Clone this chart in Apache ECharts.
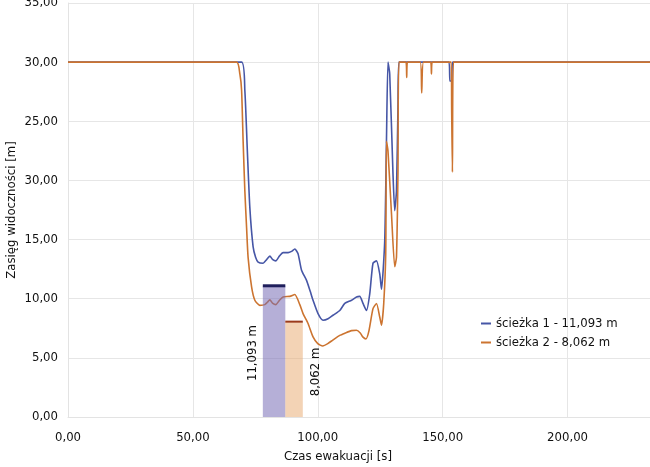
<!DOCTYPE html>
<html>
<head>
    <meta charset="utf-8">
    <title>Zasięg widoczności</title>
    <script src="https://cdn.jsdelivr.net/npm/echarts@6/dist/echarts.min.js"></script>
    <style>
        html, body { margin: 0; padding: 0; background: #fff; }
        #chart { width: 650px; height: 467px; }
    </style>
</head>
<body>
<div id="chart"></div>
<script type="text/javascript">
    // ścieżka 1 (niebieska): czas [s], zasięg [m]
    var time1 = [0, 69.5, 70.8, 71.8, 72.8, 74.1, 75.1, 76.1, 78.1, 79.5, 80.8, 82, 83.2, 84.6, 86.1, 88.1, 89.5, 90.8, 92.1, 93.5,
        95.5, 97, 98.1, 100.1, 102.1, 104.1, 106.1, 108.8, 110.8, 113.5, 115.5, 116.8, 118.1, 119.5, 120.8, 122.1, 123.5, 124.8,
        125.5, 126.8, 127.5, 128.1, 128.8, 130.1, 130.8, 131.5, 132.1, 132.5, 152.5, 152.9, 153.6, 154, 233];
    var range1 = [30, 30, 27.6, 22.5, 17.7, 14.4, 13.5, 13.1, 13.0, 13.3, 13.6, 13.3, 13.2, 13.6, 13.9, 13.9, 14.0, 14.2, 13.8, 12.4,
        11.55, 10.6, 9.87, 8.74, 8.18, 8.3, 8.6, 9.0, 9.6, 9.87, 10.15, 10.2, 9.6, 9.0, 10.4, 13.0, 13.2, 12.1,
        10.8, 14.9, 23.4, 30, 29, 20.6, 17.45, 19.1, 26.2, 30, 30, 28.4, 28.4, 30, 30];

    // ścieżka 2 (pomarańczowa)
    var time2 = [0, 67.5, 68.8, 69.5, 70.1, 70.8, 71.5, 72.1, 73.5, 74.8, 76.8, 78.8, 79.8, 80.8, 82, 83.2, 84.6, 86.1, 88.8, 90.8,
        92.8, 94.1, 96.1, 98.1, 100, 102, 104, 106, 108.8, 111, 113.5, 115.5, 117, 118, 119.3, 120.5, 122.1, 123.5, 124.8, 125.5,
        126.4, 127.2, 127.5, 128.1, 129.5, 130.8, 131.5, 132.1, 132.5, 135.3, 135.6, 135.9, 141, 141.6, 142.3, 145.2, 145.5, 145.8,
        153.4, 153.6, 153.9, 154.3, 233];
    var range2 = [30, 30, 29.0, 27.6, 23.4, 19.1, 16, 13.5, 11.0, 9.87, 9.44, 9.5, 9.7, 9.9, 9.6, 9.5, 9.85, 10.15, 10.2, 10.35,
        9.5, 8.74, 7.9, 6.77, 6.2, 6.0, 6.2, 6.5, 6.9, 7.1, 7.3, 7.33, 7.1, 6.77, 6.6, 7.3, 9.16, 9.6, 8.45, 7.76,
        9.6, 13.8, 23.3, 22.5, 17.2, 12.7, 13.5, 20.6, 30, 30, 28.7, 30, 30, 27.4, 30, 30, 29.0, 30,
        30, 26, 20.7, 30, 30];

    // słupki z wynikiem
    var barStart = [78, 87];
    var barEnd = [87, 94];
    var barValue = [11.093, 8.062];
    var barLabels = ['11,093 m', '8,062 m'];

    var seriesNames = ['ścieżka 1 - 11,093 m', 'ścieżka 2 - 8,062 m'];
    var yTickLabels = ['0,00', '5,00', '10,00', '15,00', '30,00', '25,00', '30,00', '35,00'];

    var FONT = '"DejaVu Sans Condensed", "Liberation Sans Narrow", sans-serif';

    function pairs(xs, ys) {
        var out = [];
        for (var i = 0; i < xs.length; i++) out.push([xs[i], ys[i]]);
        return out;
    }

    var barData = [];
    for (var i = 0; i < barStart.length; i++) barData.push([barStart[i], barEnd[i], barValue[i]]);

    var barFill = ['rgba(120,110,182,0.55)', 'rgba(232,168,108,0.5)'];
    var barTop = ['#1f1f5c', '#9a3a1c'];

    function renderBar(params, api) {
        var idx = params.dataIndex;
        var p0 = api.coord([api.value(0), 0]);
        var p1 = api.coord([api.value(1), api.value(2)]);
        var labelX = idx === 0 ? p0[0] - 10 : p1[0] + 13;
        var labelY = idx === 0 ? p0[1] - 64 : p0[1] - 45;
        return {
            type: 'group',
            children: [
                {
                    type: 'rect',
                    shape: {x: p0[0], y: p1[1], width: p1[0] - p0[0], height: p0[1] - p1[1]},
                    style: {fill: barFill[idx]}
                },
                {
                    type: 'line',
                    shape: {x1: p0[0], y1: p1[1], x2: p1[0], y2: p1[1]},
                    style: {stroke: barTop[idx], lineWidth: idx === 0 ? 3 : 2}
                },
                {
                    type: 'text',
                    x: labelX,
                    y: labelY,
                    rotation: Math.PI / 2,
                    style: {
                        text: barLabels[idx],
                        fill: '#111',
                        font: '13px ' + FONT,
                        align: 'center',
                        verticalAlign: 'middle'
                    }
                }
            ]
        };
    }

    var myChart = echarts.init(document.getElementById('chart'));
    var option = {
        animation: false,
        backgroundColor: '#fff',
        grid: {left: 68, right: 0, top: 3, bottom: 50, containLabel: false, outerBoundsMode: 'none'},
        legend: {
            orient: 'vertical',
            left: 476,
            top: 312,
            itemGap: 6,
            itemWidth: 10,
            itemHeight: 2,
            icon: 'rect',
            data: seriesNames,
            textStyle: {fontFamily: FONT, fontSize: 13, color: '#111'}
        },
        xAxis: {
            type: 'value',
            min: 0,
            max: 233,
            interval: 50,
            name: 'Czas ewakuacji [s]',
            nameLocation: 'middle',
            nameGap: 33,
            nameMoveOverlap: false,
            nameTextStyle: {fontFamily: FONT, fontSize: 13, color: '#111', padding: [0, 42, 0, 0]},
            axisLine: {show: true, lineStyle: {color: '#e3e3e3', width: 1}},
            axisTick: {show: false},
            axisLabel: {
                fontFamily: FONT, fontSize: 13, color: '#111', margin: 14, showMaxLabel: false,
                formatter: function (v) { return v.toFixed(2).replace('.', ','); }
            },
            splitLine: {show: true, lineStyle: {color: '#e6e6e6', width: 1}}
        },
        yAxis: {
            type: 'value',
            min: 0,
            max: 35,
            interval: 5,
            name: 'Zasięg widoczności [m]',
            nameLocation: 'middle',
            nameGap: 50,
            nameMoveOverlap: false,
            nameTextStyle: {fontFamily: FONT, fontSize: 13, color: '#111'},
            axisLine: {show: true, lineStyle: {color: '#e3e3e3', width: 1}},
            axisTick: {show: false},
            axisLabel: {
                fontFamily: FONT, fontSize: 13, color: '#111', margin: 10,
                formatter: function (v) { return yTickLabels[Math.round(v / 5)]; }
            },
            splitLine: {show: true, lineStyle: {color: '#e6e6e6', width: 1}}
        },
        series: [
            {
                name: seriesNames[0],
                type: 'line',
                data: pairs(time1, range1),
                showSymbol: false,
                smooth: 0.2,
                color: '#4656a6',
                lineStyle: {width: 1.6, color: '#4656a6'},
                z: 2
            },
            {
                name: seriesNames[1],
                type: 'line',
                data: pairs(time2, range2),
                showSymbol: false,
                smooth: 0.2,
                color: '#cc7430',
                lineStyle: {width: 1.6, color: '#cc7430'},
                z: 3
            },
            {
                type: 'custom',
                renderItem: renderBar,
                data: barData,
                z: 4,
                silent: true
            }
        ]
    };
    myChart.setOption(option);
</script>
</body>
</html>
